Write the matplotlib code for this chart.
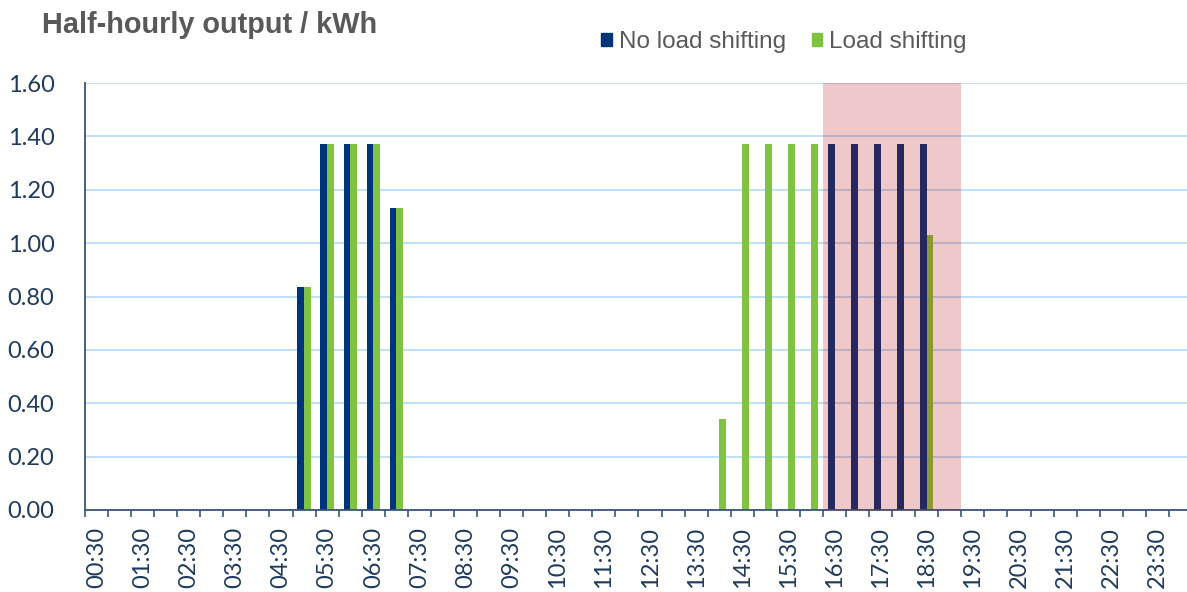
#!/usr/bin/env python3
import matplotlib
matplotlib.use('Agg')
import matplotlib.pyplot as plt
from matplotlib.patches import Patch
import numpy as np

# Half-hour slots 00:30 ... 24:00
slots = ['%02d:%02d' % divmod(30 * (i + 1), 60) for i in range(48)]

# Output per half hour in kWh
no_shift = [0.0] * 48
shift = [0.0] * 48
morning_slots = ['05:00', '05:30', '06:00', '06:30', '07:00']
morning_vals = [0.835, 1.37, 1.37, 1.37, 1.13]
no_shift_pm_slots = ['16:30', '17:00', '17:30', '18:00', '18:30']
no_shift_pm_vals = [1.37, 1.37, 1.37, 1.37, 1.37]
shift_pm_slots = ['14:00', '14:30', '15:00', '15:30', '16:00', '18:30']
shift_pm_vals = [0.34, 1.37, 1.37, 1.37, 1.37, 1.03]

for s, v in zip(morning_slots, morning_vals):
    no_shift[slots.index(s)] = v
    shift[slots.index(s)] = v
for s, v in zip(no_shift_pm_slots, no_shift_pm_vals):
    no_shift[slots.index(s)] = v
for s, v in zip(shift_pm_slots, shift_pm_vals):
    shift[slots.index(s)] = v

# Peak period shading (first and last slot covered)
peak_first = '16:30'
peak_last = '19:00'

navy = '#003478'
green = '#80c342'
label_col = '#1f3a5c'
axis_col = '#3a5573'
grid_col = '#bcdcf8'

fig = plt.figure(figsize=(11.87, 5.92), dpi=100)
ax = fig.add_axes([85 / 1187, 1 - 510 / 592, 1107 / 1187, 427 / 592])

x = np.arange(len(slots))
w = 0.29
ax.bar(x - w / 2, no_shift, w, color=navy, zorder=2, label='No load shifting')
ax.bar(x + w / 2, shift, w, color=green, zorder=2, label='Load shifting')

# red-ish translucent box over the peak period
ax.axvspan(slots.index(peak_first) - 0.5, slots.index(peak_last) + 0.5,
           ymin=0, ymax=1, color='#b40000', alpha=0.21, lw=0, zorder=3)

ax.set_xlim(-0.5, len(slots) - 0.5)
ax.set_ylim(0, 1.6)
ax.set_yticks(np.arange(0, 1.61, 0.2))
ax.set_yticklabels(['%.2f' % v for v in np.arange(0, 1.61, 0.2)])
ax.yaxis.grid(True, color=grid_col, lw=1.3, zorder=0)
ax.set_axisbelow(True)

# tick marks at slot boundaries, labels on every other slot
ax.set_xticks(np.arange(-0.5, len(slots), 1.0))
ax.set_xticklabels([])
ax.set_xticks(x[::2], minor=True)
ax.set_xticklabels(slots[::2], minor=True, rotation=90)
ax.tick_params(axis='x', which='major', length=5, width=1.2, color=axis_col, direction='out')
ax.tick_params(axis='x', which='minor', length=0, pad=12, labelsize=17,
               labelcolor=label_col, labelfontfamily='Lato')
ax.tick_params(axis='y', length=0, pad=22, labelsize=17,
               labelcolor=label_col, labelfontfamily='Lato')

for side in ['top', 'right']:
    ax.spines[side].set_visible(False)
for side in ['left', 'bottom']:
    ax.spines[side].set_color(axis_col)
    ax.spines[side].set_linewidth(1.3)

fig.text(42 / 1187, 1 - 33 / 592, 'Half-hourly output / kWh', fontsize=20.8,
         fontweight='bold', color='#595959', family='Liberation Sans', va='baseline')

handles = [Patch(color=navy), Patch(color=green)]
fig.legend(handles, ['No load shifting', 'Load shifting'], loc='center',
           bbox_to_anchor=(784 / 1187, 1 - 42 / 592), ncol=2, frameon=False,
           handlelength=0.42, handleheight=0.42, handletextpad=0.3, columnspacing=1.05,
           prop={'family': 'Liberation Sans', 'size': 17.5}, labelcolor='#595959')

fig.savefig('out.png', dpi=100)
